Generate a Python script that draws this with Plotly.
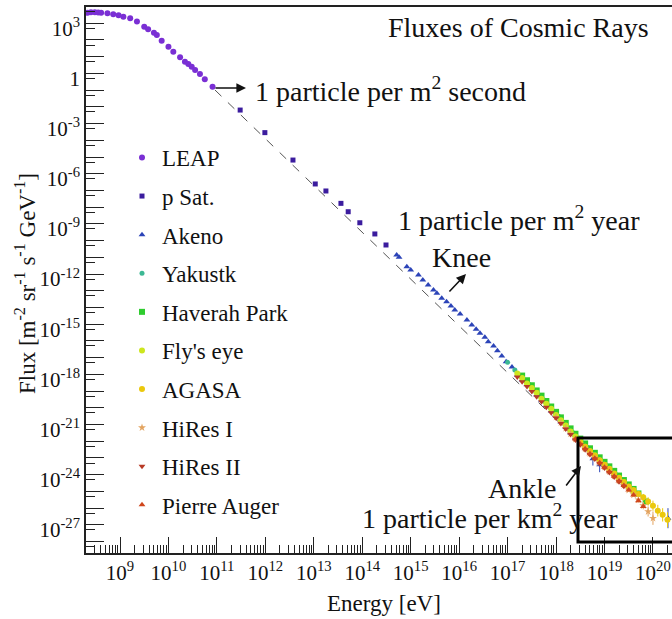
import numpy as np
import plotly.graph_objects as go

# ---------------- data (log10 of energy [eV] and flux) ----------------
leap_logE = [8.33, 8.40, 8.48, 8.55, 8.61, 8.74, 8.86, 8.97, 9.07, 9.21, 9.35, 9.50, 9.58, 9.70, 9.76,
             9.86, 10.00, 10.10, 10.24, 10.34, 10.41, 10.48, 10.55, 10.65, 10.75, 10.91]
leap_logF = [3.93, 3.96, 3.96, 3.95, 3.93, 3.90, 3.84, 3.78, 3.69, 3.60, 3.40, 3.10, 2.94, 2.74, 2.60,
             2.26, 1.90, 1.60, 1.27, 1.00, 0.87, 0.70, 0.51, 0.27, -0.05, -0.49]

psat_logE = [11.48, 11.99, 12.57, 13.03, 13.25, 13.56, 13.71, 13.95, 14.26, 14.49]
psat_logF = [-1.89, -3.24, -4.88, -6.31, -6.73, -7.47, -7.97, -8.63, -9.30, -9.96]

akeno_logE = [14.71, 14.76, 14.92, 15.00, 15.16, 15.25, 15.36, 15.47, 15.54, 15.64, 15.74, 15.83,
              15.91, 16.02, 16.16, 16.26, 16.35, 16.43, 16.53, 16.60, 16.71, 16.79, 16.88, 16.97,
              17.09, 17.20, 17.30, 17.40, 17.50, 17.60, 17.70, 17.80, 17.90, 18.00, 18.10, 18.20,
              18.30, 18.40, 18.50, 18.62, 18.76, 18.90, 20.31]
akeno_logF = [-10.56, -10.70, -11.26, -11.46, -11.76, -12.05, -12.35, -12.65, -12.85, -13.15, -13.35, -13.61,
              -13.85, -14.09, -14.45, -14.75, -15.00, -15.24, -15.48, -15.74, -16.00, -16.28, -16.60, -16.95,
              -17.25, -17.75, -18.04, -18.32, -18.62, -18.93, -19.24, -19.56, -19.89, -20.21, -20.54, -20.87,
              -21.20, -21.52, -21.81, -22.15, -22.75, -23.10, -26.30]
akeno_err = [0] * 39 + [0.15, 0.40, 0.45, 0.60]

yakustk_logE = [17.00, 17.15, 17.30, 17.45, 17.60, 17.75, 17.90, 18.05, 18.20, 18.35, 18.50, 18.65,
                18.80, 18.95, 19.10, 19.25, 19.40, 19.55]
yakustk_logF = [-16.98, -17.43, -17.87, -18.30, -18.76, -19.23, -19.72, -20.21, -20.70, -21.19, -21.64, -22.08,
                -22.49, -22.90, -23.30, -23.71, -24.12, -24.52]

haverah_logE = [17.30, 17.40, 17.50, 17.60, 17.70, 17.80, 17.90, 18.00, 18.10, 18.20, 18.30, 18.40, 18.50,
                18.60, 18.70, 18.80, 18.90, 19.00, 19.10, 19.20, 19.30, 19.40, 19.50, 19.60, 19.70, 19.85]
haverah_logF = [-17.77, -18.05, -18.35, -18.66, -18.97, -19.29, -19.62, -19.94, -20.27, -20.60, -20.93, -21.25, -21.54,
                -21.83, -22.12, -22.39, -22.66, -22.93, -23.20, -23.47, -23.75, -24.02, -24.28, -24.55, -24.82, -25.30]

flyseye_logE = [17.20, 17.30, 17.40, 17.50, 17.60, 17.70, 17.80, 17.90, 18.00, 18.10, 18.20, 18.30, 18.40,
                18.50, 18.60, 18.70, 18.80, 18.90, 19.00, 19.10, 19.20, 19.30, 19.40, 19.50, 19.60]
flyseye_logF = [-17.65, -17.92, -18.24, -18.52, -18.80, -19.16, -19.46, -19.76, -20.13, -20.44, -20.75, -21.12, -21.42,
                -21.69, -22.02, -22.29, -22.54, -22.85, -23.10, -23.35, -23.66, -23.92, -24.17, -24.47, -24.72]

agasa_logE = [18.50, 18.60, 18.70, 18.80, 18.90, 19.00, 19.10, 19.20, 19.30, 19.40, 19.50, 19.60, 19.70,
              19.80, 19.90, 20.00, 20.10, 20.20, 20.30]
agasa_logF = [-21.78, -22.03, -22.30, -22.58, -22.84, -23.10, -23.36, -23.62, -23.88, -24.14, -24.40, -24.62, -24.85,
              -25.05, -25.30, -25.55, -25.85, -26.10, -26.40]
agasa_err = [0.02, 0.02, 0.03, 0.03, 0.04, 0.05, 0.06, 0.07, 0.08, 0.10, 0.12, 0.14, 0.16,
             0.20, 0.25, 0.30, 0.35, 0.40, 0.45]

hires1_logE = [18.00, 18.10, 18.20, 18.30, 18.40, 18.50, 18.60, 18.70, 18.80, 18.90, 19.00, 19.10, 19.20,
               19.30, 19.40, 19.50, 19.60, 19.70, 19.80, 19.90, 20.00]
hires1_logF = [-20.26, -20.59, -20.92, -21.25, -21.57, -21.86, -22.15, -22.44, -22.71, -22.98, -23.25, -23.52, -23.79,
               -24.07, -24.34, -24.62, -24.90, -25.20, -25.55, -25.90, -26.30]
hires1_err = [0.02] * 14 + [0.08, 0.10, 0.12, 0.16, 0.22, 0.30, 0.40]

hires2_logE = [17.20, 17.30, 17.40, 17.50, 17.60, 17.70, 17.80, 17.90, 18.00, 18.10, 18.20, 18.30, 18.40,
               18.50, 18.60, 18.70, 18.80, 18.90, 19.00, 19.10, 19.20, 19.30, 19.40]
hires2_logF = [-17.85, -18.14, -18.42, -18.72, -19.03, -19.34, -19.66, -19.99, -20.31, -20.64, -20.97, -21.30, -21.62,
               -21.91, -22.20, -22.49, -22.76, -23.03, -23.30, -23.57, -23.84, -24.12, -24.39]

auger_logE = [18.40, 18.50, 18.60, 18.70, 18.80, 18.90, 19.00, 19.10, 19.20, 19.30, 19.40, 19.50, 19.60, 19.70, 19.80]
auger_logF = [-21.57, -21.86, -22.15, -22.44, -22.71, -22.98, -23.25, -23.52, -23.79, -24.07, -24.34, -24.62,
              -24.92, -25.25, -25.60]

# reference power law (dashed)
ref_logE = [10.96, 19.60]
ref_logF = [-0.69, -24.88]

x_tick_exp = list(range(9, 21))
y_label_exp = [3, 0, -3, -6, -9, -12, -15, -18, -21, -24, -27]

# ---------------- figure ----------------
FONT = "Liberation Serif, Times New Roman, Tinos, DejaVu Serif, serif"
fig = go.Figure()

fig.add_trace(go.Scatter(x=10 ** np.array(ref_logE), y=10 ** np.array(ref_logF), mode="lines",
                         line=dict(color="#555555", width=1, dash="dash"), showlegend=False,
                         hoverinfo="skip"))


def errs(logF, err):
    f = np.array(logF)
    e = np.array(err)
    return dict(type="data", symmetric=False, array=10 ** (f + e) - 10 ** f,
                arrayminus=10 ** f - 10 ** (f - e), thickness=1, width=0)


series = [
    ("LEAP", leap_logE, leap_logF, None, "#7a2fd4", "circle", 6),
    ("p Sat.", psat_logE, psat_logF, None, "#3b1c9e", "square", 5),
    ("Akeno", akeno_logE, akeno_logF, akeno_err, "#2c44b8", "triangle-up", 6),
    ("Yakustk", yakustk_logE, yakustk_logF, None, "#3cb894", "circle", 5),
    ("Haverah Park", haverah_logE, haverah_logF, None, "#2fcc2f", "square", 6),
    ("Fly's eye", flyseye_logE, flyseye_logF, None, "#cde61e", "circle", 6),
    ("AGASA", agasa_logE, agasa_logF, agasa_err, "#ebc80c", "circle", 6),
    ("HiRes I", hires1_logE, hires1_logF, hires1_err, "#e3a460", "star", 6),
    ("HiRes II", hires2_logE, hires2_logF, None, "#b83a26", "triangle-down", 6),
    ("Pierre Auger", auger_logE, auger_logF, None, "#d0461c", "triangle-up", 6),
]

for name, le, lf, er, col, sym, sz in series:
    kw = {}
    if er is not None:
        kw["error_y"] = dict(errs(lf, er), color=col)
    fig.add_trace(go.Scatter(x=10 ** np.array(le), y=10 ** np.array(lf), mode="markers", name=name,
                             legendgroup=name,
                             marker=dict(color=col, symbol=sym, size=sz, line=dict(width=0)), **kw))

# plot area in pixels
L, R, T, B = 86, 672, 7, 553
W, H = R - L, B - T


def px(x):
    return (x - L) / W


def py(y):
    return (B - y) / H


axis_col = "#222222"
x_minor = [m * 10.0 ** k for k in range(8, 21) for m in range(2, 10)]
fig.update_xaxes(type="log", range=[8.2982, 20.393],
                 tickmode="array", tickvals=[10.0 ** k for k in x_tick_exp],
                 ticktext=["10<sup>%d</sup>" % k for k in x_tick_exp],
                 ticks="inside", ticklen=16, tickwidth=1, tickcolor=axis_col,
                 minor=dict(tickmode="array", tickvals=x_minor, ticks="inside", ticklen=8,
                            tickwidth=1, tickcolor=axis_col, showgrid=False),
                 showline=True, linewidth=1.5, linecolor=axis_col, mirror=True,
                 showgrid=False, zeroline=False,
                 tickfont=dict(family=FONT, size=21, color="#111"))

y_vals = [10.0 ** k for k in range(-28, 5)]
y_text = []
for k in range(-28, 5):
    if k in y_label_exp:
        y_text.append("1" if k == 0 else "10<sup>%d</sup>" % k)
    else:
        y_text.append("")
y_minor = [2 * 10.0 ** k for k in range(-29, 5)]
fig.update_yaxes(type="log", range=[-28.382, 4.274],
                 tickmode="array", tickvals=y_vals, ticktext=y_text,
                 ticks="inside", ticklen=9, tickwidth=1, tickcolor=axis_col,
                 minor=dict(tickmode="array", tickvals=y_minor, ticks="inside", ticklen=18,
                            tickwidth=1, tickcolor=axis_col, showgrid=False),
                 showline=True, linewidth=1.5, linecolor=axis_col, mirror=False,
                 showgrid=False, zeroline=False,
                 tickfont=dict(family=FONT, size=21, color="#111"))

ann = []


def text(x, y, s, size=28, **kw):
    ann.append(dict(x=px(x), y=py(y), xref="paper", yref="paper", text=s, showarrow=False,
                    xanchor=kw.pop("xanchor", "left"), yanchor="middle",
                    font=dict(family=FONT, size=size, color="#111"), **kw))


def arrow(x0, y0, x1, y1):
    ann.append(dict(x=px(x1), y=py(y1), xref="paper", yref="paper", ax=x0 - x1, ay=y0 - y1,
                    axref="pixel", ayref="pixel", text="", showarrow=True, arrowhead=2,
                    arrowsize=1.2, arrowwidth=1.6, arrowcolor="#111"))


text(386, 28, "Fluxes of Cosmic Rays")
text(253, 89, "1 particle per m<sup>2</sup> second")
arrow(214, 88, 246, 88)
text(396, 219, "1 particle per m<sup>2</sup> year")
text(430, 257, "Knee")
arrow(448, 293, 466, 274)
text(486, 488, "Ankle")
arrow(565, 487, 581, 466)
text(360, 516, "1 particle per km<sup>2</sup> year")
text(384, 603, "Energy [eV]", size=23, xanchor="center")
ann.append(dict(x=px(25), y=py(284), xref="paper", yref="paper",
                text="Flux [m<sup>-2</sup> sr<sup>-1</sup> s<sup>-1</sup> GeV<sup>-1</sup>]",
                showarrow=False, textangle=-90, xanchor="center", yanchor="middle",
                font=dict(family=FONT, size=23, color="#111")))

fig.update_layout(
    width=672, height=619,
    margin=dict(l=L, r=672 - R, t=T, b=619 - B),
    paper_bgcolor="white", plot_bgcolor="white",
    annotations=ann,
    shapes=[dict(type="rect", xref="paper", yref="paper", x0=px(578), x1=px(720),
                 y0=py(542), y1=py(438), line=dict(color="black", width=3))],
    legend=dict(x=px(122), y=py(136), xanchor="left", yanchor="top",
                font=dict(family=FONT, size=23, color="#111"), bgcolor="rgba(0,0,0,0)",
                tracegroupgap=5.7, itemsizing="trace"),
    showlegend=True,
)

fig.write_html("out.html")
